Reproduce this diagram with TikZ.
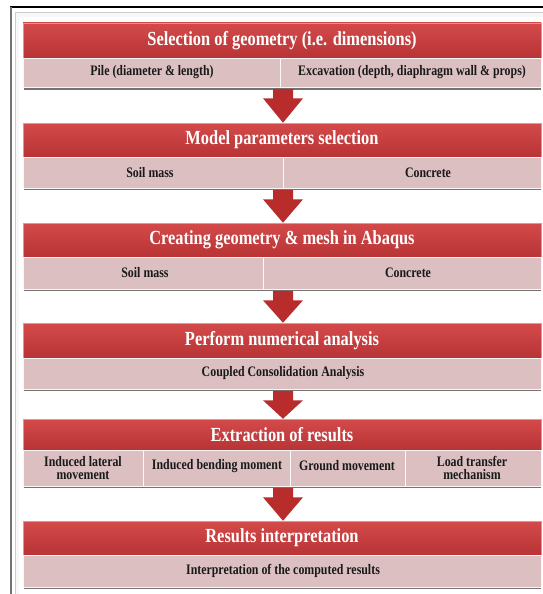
\documentclass[tikz,border=0pt]{standalone}
\usepackage{fontspec}
\setmainfont{Liberation Serif}[FakeStretch=0.82]
\usetikzlibrary{calc}
\definecolor{barred}{HTML}{C8383A}
\definecolor{barredtop}{HTML}{D44A4A}
\definecolor{barpink}{HTML}{DCC0C1}
\definecolor{arrowred}{HTML}{B82C2C}
\tikzset{
  redbar/.style={draw=barredtop!60!white, line width=0.5pt, top color=barredtop, bottom color=barred!92!black,
    minimum width=518pt, inner sep=0pt, text=white, font=\fontsize{20}{22}\selectfont\bfseries},
  pinkbar/.style={fill=barpink, draw=white!85!barpink, line width=0.6pt, minimum width=518pt, inner sep=0pt},
  shade/.style={fill=black!55},
  celltext/.style={font=\fontsize{14.5}{13.5}\selectfont\bfseries, text=black!90, align=center, inner sep=0pt},
  divider/.style={draw=white!90!barpink, line width=1pt},
  blockarrow/.style={fill=arrowred}
}
\begin{document}
\begin{tikzpicture}[x=1pt,y=-1pt]
\useasboundingbox (0,0) rectangle (543,594);
% frame
\fill[white] (0,0) rectangle (543,594);
\fill[black!3] (15,12) rectangle (543,594);
\draw[black!20, line width=0.6pt] (15,12) -- (543,12);
\draw[black!20, line width=0.6pt] (15,12) -- (15,594);
\draw[black, line width=1.4pt] (10,7) -- (543,7);
\draw[black!55, line width=2pt] (11,7) -- (11,594);
\fill[white] (19,17) rectangle (543,594);

% ---------- stage 1 ----------
\node[redbar, minimum height=35pt] (r1) at (282,40.5) {Selection of geometry (i.e. dimensions)};
\fill[shade] (23.5,72.5) rectangle (541,89.5);
\node[pinkbar, minimum height=29pt] (p1) at (282,72.5) {};
\draw[divider] (280,58) -- (280,87);
\node[celltext] (c11) at (152,72.5) {Pile (diameter \& length)};
\node[celltext] (c12) at (412,72.5) {Excavation (depth, diaphragm wall \& props)};

% ---------- stage 2 ----------
\node[redbar, minimum height=34pt] (r2) at (282,140) {Model parameters  selection};
\fill[shade] (23.5,172.5) rectangle (541,190);
\node[pinkbar, minimum height=31pt] (p2) at (282,172.5) {};
\draw[divider] (283,157) -- (283,188);
\node[celltext] (c21) at (150,172.5) {Soil mass};
\node[celltext] (c22) at (428,172.5) {Concrete};

% ---------- stage 3 ----------
\node[redbar, minimum height=34pt] (r3) at (282,240) {Creating geometry \& mesh in Abaqus};
\fill[shade] (23.5,273) rectangle (541,291);
\node[pinkbar, minimum height=32pt] (p3) at (282,273) {};
\draw[divider] (263,257) -- (263,289);
\node[celltext] (c31) at (145,273) {Soil mass};
\node[celltext] (c32) at (408,273) {Concrete};

% ---------- stage 4 ----------
\node[redbar, minimum height=35pt] (r4) at (282,340.5) {Perform numerical analysis};
\fill[shade] (23.5,373.5) rectangle (541,391);
\node[pinkbar, minimum height=31pt] (p4) at (282,373.5) {};
\node[celltext] (c41) at (283,373.5) {Coupled Consolidation Analysis};

% ---------- stage 5 ----------
\node[redbar, minimum height=31pt] (r5) at (282,434.5) {Extraction of results};
\fill[shade] (23.5,468) rectangle (541,488);
\node[pinkbar, minimum height=36pt] (p5) at (282,468) {};
\draw[divider] (143,450) -- (143,486);
\draw[divider] (290,450) -- (290,486);
\draw[divider] (405,450) -- (405,486);
\node[celltext] (c51) at (83,468) {Induced lateral\\movement};
\node[celltext] (c52) at (217,466) {Induced bending  moment};
\node[celltext] (c53) at (347,466) {Ground movement};
\node[celltext] (c54) at (472,468) {Load transfer\\mechanism};

% ---------- stage 6 ----------
\node[redbar, minimum height=34pt] (r6) at (282,538) {Results interpretation};
\fill[shade] (23.5,571) rectangle (541,589);
\node[pinkbar, minimum height=32pt] (p6) at (282,571) {};
\node[celltext] (c61) at (283,571) {Interpretation of the computed results};

% ---------- arrows ----------
\foreach \a/\b in {p1/r2,p2/r3,p3/r4,p4/r5,p5/r6}{
  \fill[blockarrow] ($(\a.south)+(-9,1.5)$) -- ($(\a.south)+(-9,11)$) -- ($(\a.south)+(-19,11)$)
     -- ($(\b.north)+(1,0)$) -- ($(\a.south)+(21,11)$) -- ($(\a.south)+(11,11)$) -- ($(\a.south)+(11,1.5)$) -- cycle;
}
\end{tikzpicture}
\end{document}
